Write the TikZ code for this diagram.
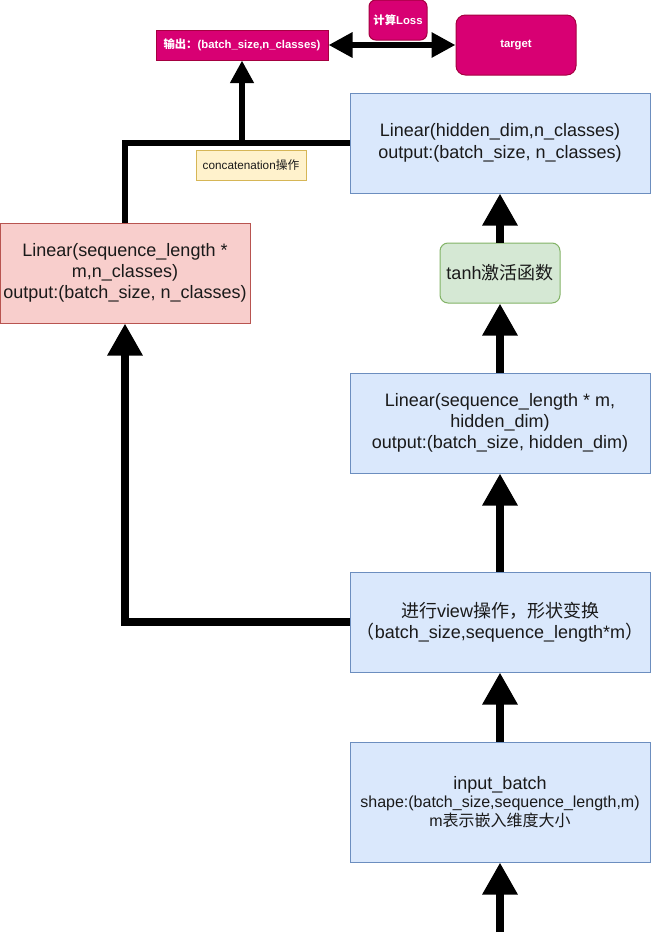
\documentclass[tikz,border=0pt]{standalone}
\usepackage{fontspec}
\setmainfont{Liberation Sans}
\newfontfamily\cjk{Noto Sans CJK SC}
\usetikzlibrary{arrows.meta}
\definecolor{bfill}{HTML}{DAE8FC}
\definecolor{bline}{HTML}{6C8EBF}
\definecolor{rfill}{HTML}{F8CECC}
\definecolor{rline}{HTML}{B85450}
\definecolor{gfill}{HTML}{D5E8D4}
\definecolor{gline}{HTML}{82B366}
\definecolor{yfill}{HTML}{FFF2CC}
\definecolor{yline}{HTML}{D6B656}
\definecolor{mfill}{HTML}{D80073}
\definecolor{mline}{HTML}{A50040}
\definecolor{txt}{HTML}{1A1A1A}
\begin{document}
\begin{tikzpicture}[x=0.75pt,y=-0.75pt,
  mainfont/.style={font=\fontsize{13.5}{16}\selectfont},
  bluebox/.style={draw=bline, fill=bfill, line width=0.75pt, minimum width=225pt, minimum height=75pt, align=center, text=txt, inner sep=2pt, mainfont},
  redbox/.style={draw=rline, fill=rfill, line width=0.75pt, minimum width=187.5pt, minimum height=75pt, align=center, text=txt, inner sep=2pt, mainfont},
  greenbox/.style={draw=gline, fill=gfill, line width=0.75pt, minimum width=90pt, minimum height=45pt, rounded corners=6pt, align=center, text=txt, inner sep=2pt, mainfont},
  magbox/.style={draw=mline, fill=mfill, line width=0.75pt, align=center, text=white, inner sep=1pt, font=\fontsize{8.5}{10}\selectfont\bfseries},
  notebox/.style={draw=yline, fill=yfill, line width=0.75pt, minimum width=82.5pt, minimum height=22.5pt, align=center, text=txt, inner sep=1pt, font=\fontsize{8.8}{10}\selectfont},
  bigarrow/.style={line width=6.5pt, -{Triangle[width=25pt,length=24pt]}},
  bigline/.style={line width=6pt},
  midline/.style={line width=4.5pt},
  midarrow/.style={line width=4.5pt, -{Triangle[width=17pt,length=17pt]}},
  dblarrow/.style={line width=4.5pt, {Triangle[width=18pt,length=18pt]}-{Triangle[width=18pt,length=18pt]}}
]
\useasboundingbox (0,0) rectangle (651,946);

% nodes
\node[magbox, minimum width=129pt, minimum height=22.5pt] (out) at (242,45) {\cjk 输出：\normalfont\bfseries(batch\_size,n\_classes)};
\node[magbox, minimum width=43.5pt, minimum height=30pt, rounded corners=5pt] (loss) at (398,20) {\cjk 计算\normalfont\bfseries Loss};
\node[magbox, minimum width=90pt, minimum height=45pt, rounded corners=7pt] (target) at (516,45) {target};

\node[bluebox] (lin3) at (500,143) {Linear(hidden\_dim,n\_classes)\\output:(batch\_size, n\_classes)};
\node[notebox] (concat) at (251,165) {concatenation{\cjk 操作}};
\node[redbox] (lin1) at (125,273) {Linear(sequence\_length *\\m,n\_classes)\\output:(batch\_size, n\_classes)};
\node[greenbox] (tanh) at (500,273) {tanh{\cjk 激活函数}};
\node[bluebox] (lin2) at (500,423) {Linear(sequence\_length * m,\\hidden\_dim)\\output:(batch\_size, hidden\_dim)};
\node[bluebox] (view) at (500,622) {{\cjk 进行}view{\cjk 操作，形状变换}\\{\cjk （}batch\_size,sequence\_length*m{\cjk ）}};
\node[bluebox, minimum height=90pt, font=\fontsize{12}{14}\selectfont] (input) at (500,802) {{\fontsize{13.5}{16}\selectfont input\_batch}\\shape:(batch\_size,sequence\_length,m)\\m{\cjk 表示嵌入维度大小}};
\coordinate (start) at (500,932);
\coordinate (join) at (out.south |- lin3.west);

% connectors
\draw[bigarrow] (start) -- (input.south);
\draw[bigarrow] (input.north) -- (view.south);
\draw[bigarrow] (view.north) -- (lin2.south);
\draw[bigarrow] (lin2.north) -- (tanh.south);
\draw[bigarrow] (tanh.north) -- (lin3.south);
\draw[bigarrow] (view.west) -| (lin1.south);
\draw[midline] (lin3.west) -| (lin1.north);
\draw[midarrow] (join) -- (out.south);
\draw[dblarrow] (out.east) -- (target.west);
\end{tikzpicture}
\end{document}
